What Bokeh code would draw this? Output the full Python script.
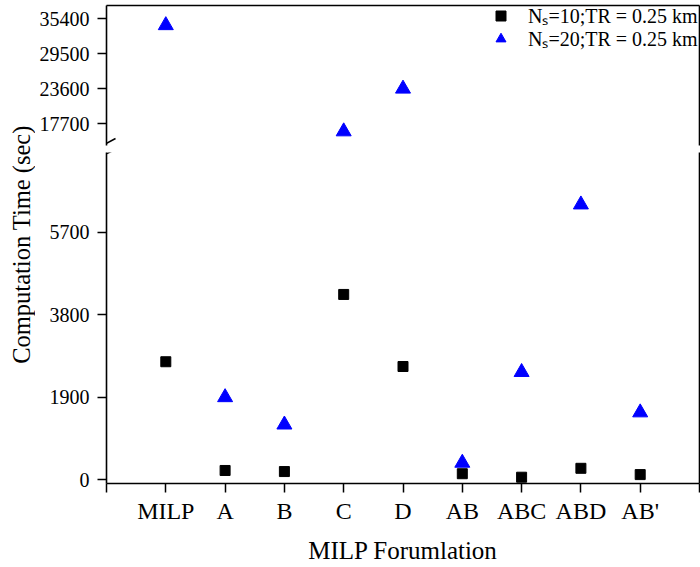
import numpy as np
from bokeh.plotting import figure
from bokeh.models import Range1d, FixedTicker, LinearAxis, Legend, LegendItem, Arrow
from bokeh.layouts import row, column
from bokeh.core.properties import value
from bokeh.embed import file_html
from bokeh.resources import INLINE

# ---------------- data ----------------
categories = ["MILP", "A", "B", "C", "D", "AB", "ABC", "ABD", "AB'"]
time_ns10 = [2720, 215, 190, 4270, 2610, 140, 60, 265, 120]
time_ns20 = [34300, 1900, 1270, 16400, 23600, 390, 2480, 6340, 1550]
lower_ticks = [0, 1900, 3800, 5700]
upper_ticks = [17700, 23600, 29500, 35400]
legend_labels = ["N\u209b=10;TR = 0.25 km", "N\u209b=20;TR = 0.25 km"]
x_title = "MILP Forumlation"
y_title = "Computation Time (sec)"

FONT = "'Liberation Serif', 'Times New Roman', serif"
xpos = list(range(1, len(categories) + 1))

x_range = Range1d(0, len(categories) + 1)
upper_range = Range1d(14040, 37640)
lower_range = Range1d(-85, 7540)

UP_FRAME_H = 140
LO_FRAME_H = 331


def base_fig(height, y_range, top, bottom, xloc):
    p = figure(width=665, height=height, x_range=x_range, y_range=y_range,
               output_backend="svg", toolbar_location=None,
               min_border_left=71, min_border_right=1,
               min_border_top=top, min_border_bottom=bottom,
               x_axis_location=xloc, y_axis_location="left")
    p.grid.visible = False
    p.outline_line_color = None
    p.background_fill_color = "white"
    p.border_fill_color = "white"
    return p


def style_left(ax, ticks):
    ax.ticker = FixedTicker(ticks=ticks)
    ax.minor_tick_line_color = None
    ax.major_tick_out = 9
    ax.major_tick_in = 0
    ax.axis_line_width = 1.6
    ax.major_tick_line_width = 1.5
    ax.axis_line_color = "black"
    ax.major_tick_line_color = "black"
    ax.major_label_text_font = FONT
    ax.major_label_text_font_size = "20px"
    ax.major_label_text_color = "black"
    ax.major_label_standoff = 8


def style_border(ax):
    ax.ticker = FixedTicker(ticks=[])
    ax.major_tick_line_color = None
    ax.minor_tick_line_color = None
    ax.major_label_text_font_size = "0px"
    ax.major_label_standoff = 0
    ax.axis_line_width = 1.6
    ax.axis_line_color = "black"


def make_legend(item, location):
    return Legend(items=[item], location=location, border_line_color=None,
                  background_fill_alpha=0, label_text_font=FONT,
                  label_text_font_size="20px", label_text_color="black",
                  padding=0, margin=0, spacing=0, glyph_width=25,
                  glyph_height=25, label_height=20, label_standoff=15)


# ---------------- upper panel ----------------
upper = base_fig(148, upper_range, 5, 3, "above")
style_left(upper.yaxis[0], upper_ticks)
style_border(upper.xaxis[0])
rb = LinearAxis()
style_border(rb)
upper.add_layout(rb, "right")

r_sq_u = upper.scatter(xpos, time_ns10, marker="square", size=10, color="black")
r_tr_u = upper.scatter(xpos, time_ns20, marker="triangle", size=15, color="blue")

upper.add_layout(make_legend(LegendItem(label=legend_labels[0], renderers=[r_sq_u]),
                             (382, 116)))
upper.add_layout(make_legend(LegendItem(label=legend_labels[1], renderers=[r_tr_u]),
                             (382, 93)))

# ---------------- lower panel ----------------
lower = base_fig(419, lower_range, 4, 84, "below")
style_left(lower.yaxis[0], lower_ticks)
rb2 = LinearAxis()
style_border(rb2)
lower.add_layout(rb2, "right")

xa = lower.xaxis[0]
xa.ticker = FixedTicker(ticks=list(range(0, len(categories) + 2)))
overrides = {0: "", len(categories) + 1: ""}
overrides.update({i + 1: c for i, c in enumerate(categories)})
xa.major_label_overrides = overrides
xa.minor_tick_line_color = None
xa.major_tick_out = 9
xa.major_tick_in = 0
xa.axis_line_width = 1.6
xa.major_tick_line_width = 1.5
xa.axis_line_color = "black"
xa.major_tick_line_color = "black"
xa.major_label_text_font = FONT
xa.major_label_text_font_size = "24px"
xa.major_label_text_color = "black"
xa.major_label_standoff = 5
xa.axis_label = x_title
xa.axis_label_text_font = FONT
xa.axis_label_text_font_size = "25px"
xa.axis_label_text_font_style = "normal"
xa.axis_label_text_color = "black"
xa.axis_label_standoff = 10

lower.scatter(xpos, time_ns10, marker="square", size=10, color="black")
lower.scatter(xpos, time_ns20, marker="triangle", size=15, color="blue")

# ---------------- axis-break marks ----------------
xpx = (x_range.end - x_range.start) / 593.0
upx = (upper_range.end - upper_range.start) / UP_FRAME_H
lpx = (lower_range.end - lower_range.start) / LO_FRAME_H
upper.add_layout(Arrow(end=None, x_start=-8 * xpx, y_start=upper_range.start - 2 * upx,
                       x_end=9 * xpx, y_end=upper_range.start + 7 * upx,
                       line_width=1.5, line_color="black"))
lower.add_layout(Arrow(end=None, x_start=-8 * xpx, y_start=lower_range.end - 5 * lpx,
                       x_end=9 * xpx, y_end=lower_range.end + 3 * lpx,
                       line_width=1.5, line_color="black"))

# ---------------- y title column ----------------
lab = figure(width=35, height=567, x_range=Range1d(0, 35), y_range=Range1d(0, 567),
             output_backend="svg", toolbar_location=None, min_border=0,
             x_axis_location=None, y_axis_location=None)
lab.outline_line_color = None
lab.grid.visible = False
lab.text(x=[21], y=[567 - 244], text=[y_title], angle=np.pi / 2,
         text_align="center", text_baseline="middle", text_font=value(FONT),
         text_font_size="24.5px", text_color="black")

layout = row(lab, column(upper, lower))

open("out.html", "w").write(file_html(layout, INLINE))
